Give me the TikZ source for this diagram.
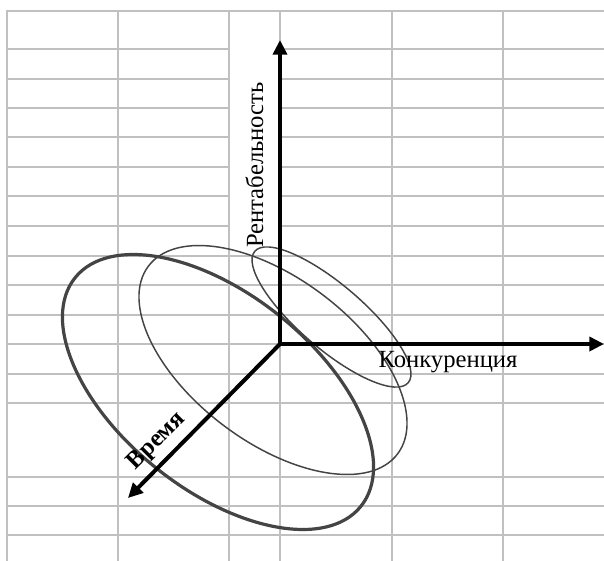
\documentclass[tikz,border=0pt]{standalone}
\usepackage{fontspec}
\setmainfont{Liberation Serif}
\usetikzlibrary{arrows.meta}
\definecolor{gridgray}{HTML}{C0C0C0}
\definecolor{ringgray}{HTML}{444444}
\tikzset{
  gridline/.style={draw=gridgray,line width=1.7pt},
  axis/.style={-{Triangle[length=11pt,width=10.5pt]},draw=black,line width=3pt},
  ring/.style={draw=ringgray,line width=2.4pt},
  thinring/.style={draw=ringgray,line width=1.1pt},
  axislabel/.style={font=\fontsize{18.5}{20}\selectfont,text=black,inner sep=0pt}
}
\begin{document}
\begin{tikzpicture}[x=0.75pt,y=-0.75pt]
\path[use as bounding box,fill=white] (0,0) rectangle (604,561);
% grid
\foreach \x in {7,118,229,280,392,503}{\draw[gridline] (\x,10) -- (\x,561);}
\draw[gridline] (7,11) -- (604,11);
\foreach \y in {49,79,108,137,167,196,226}{\draw[gridline] (7,\y) -- (229,\y); \draw[gridline] (280,\y) -- (604,\y);}
\foreach \y in {256,285,315,344,374,403,477,506,535}{\draw[gridline] (7,\y) -- (604,\y);}
% ellipses
\draw[ring] (218,392) ellipse [x radius=183,y radius=98,rotate=-38.6];
\draw[thinring] (273,360) ellipse [x radius=156,y radius=82,rotate=-37];
\draw[thinring] (331.5,317) ellipse [x radius=101,y radius=32,rotate=-40.6];
% axes
\coordinate (O) at (280,344);
\coordinate (rent) at (280,40);
\coordinate (konk) at (604,344);
\coordinate (vrem) at (128,498);
\draw[axis] (O) -- (rent);
\draw[axis] (O) -- (konk);
\draw[axis] (O) -- (vrem);
\node[axislabel,rotate=90,anchor=base] (rentlbl) at (263,165) {Рентабельность};
\node[axislabel,anchor=base] (konklbl) at (448,367) {Конкуренция};
\node[axislabel,font=\bfseries\fontsize{18.5}{20}\selectfont,rotate=45,anchor=base] (vremlbl) at (161,445) {Время};
\end{tikzpicture}
\end{document}
